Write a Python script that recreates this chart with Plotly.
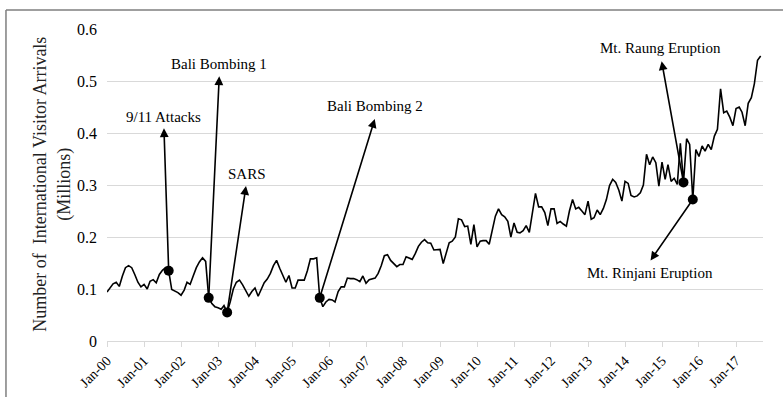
import pandas as pd
import plotly.graph_objects as go

# Monthly international visitor arrivals (millions), Jan 2000 onward
arrivals = [
    0.094, 0.103, 0.110, 0.113, 0.105, 0.125, 0.141, 0.145, 0.141, 0.128, 0.113, 0.104,  # 2000
    0.109, 0.100, 0.115, 0.118, 0.112, 0.128, 0.136, 0.141, 0.135, 0.099, 0.096, 0.093,  # 2001
    0.088, 0.098, 0.113, 0.109, 0.125, 0.141, 0.152, 0.160, 0.153, 0.083, 0.072, 0.066,  # 2002
    0.064, 0.061, 0.068, 0.055, 0.075, 0.100, 0.113, 0.117, 0.108, 0.097, 0.086, 0.095,  # 2003
    0.102, 0.086, 0.100, 0.112, 0.119, 0.130, 0.145, 0.155, 0.140, 0.128, 0.113, 0.126,  # 2004
    0.102, 0.102, 0.117, 0.117, 0.117, 0.135, 0.158, 0.158, 0.160, 0.083, 0.066, 0.075,  # 2005
    0.080, 0.079, 0.075, 0.095, 0.104, 0.104, 0.121, 0.120, 0.120, 0.118, 0.114, 0.125,  # 2006
    0.111, 0.118, 0.120, 0.121, 0.130, 0.145, 0.164, 0.166, 0.155, 0.148, 0.143, 0.147,  # 2007
    0.147, 0.162, 0.160, 0.157, 0.168, 0.182, 0.190, 0.195, 0.189, 0.188, 0.175, 0.176,  # 2008
    0.176, 0.149, 0.170, 0.189, 0.192, 0.200, 0.235, 0.233, 0.220, 0.221, 0.186, 0.224,  # 2009
    0.181, 0.192, 0.193, 0.193, 0.186, 0.214, 0.240, 0.254, 0.243, 0.239, 0.230, 0.200,  # 2010
    0.227, 0.209, 0.208, 0.212, 0.222, 0.209, 0.245, 0.284, 0.258, 0.258, 0.247, 0.222,  # 2011
    0.254, 0.254, 0.226, 0.230, 0.225, 0.221, 0.250, 0.272, 0.254, 0.257, 0.250, 0.243,  # 2012
    0.269, 0.234, 0.237, 0.252, 0.243, 0.255, 0.272, 0.299, 0.311, 0.305, 0.290, 0.269,  # 2013
    0.307, 0.303, 0.280, 0.277, 0.279, 0.285, 0.300, 0.359, 0.339, 0.354, 0.343, 0.298,  # 2014
    0.344, 0.311, 0.339, 0.307, 0.313, 0.301, 0.380, 0.305, 0.389, 0.378, 0.272, 0.368,  # 2015
    0.355, 0.375, 0.365, 0.378, 0.368, 0.394, 0.407, 0.485, 0.439, 0.442, 0.430, 0.414,  # 2016
    0.447, 0.450, 0.440, 0.414, 0.457, 0.468, 0.495, 0.540, 0.548,                       # 2017
]
months = pd.date_range("2000-01-01", periods=len(arrivals), freq="MS")

# Events marked on the series (month index from Jan 2000)
event_names = ["9/11 Attacks", "Bali Bombing 1", "SARS", "Bali Bombing 2",
               "Mt. Raung Eruption", "Mt. Rinjani Eruption"]
event_months = [20, 33, 39, 69, 187, 190]

# Callout placement: arrow tips and label centres as (month index, millions)
arrow_tips = [(18.5, 0.409), (36.4, 0.509), (45.1, 0.298), (86.9, 0.427),
              (179.9, 0.538), (176.3, 0.155)]
label_pos = [(18.3, 0.431), (36.3, 0.532), (45.5, 0.321), (87.1, 0.451),
             (179.6, 0.563), (176.2, 0.131)]

FONT = "Liberation Serif"


def month_to_date(m):
    whole = int(m)
    base = pd.Timestamp("2000-01-01") + pd.DateOffset(months=whole)
    return (base + pd.Timedelta(days=(m - whole) * 30.4)).strftime("%Y-%m-%d %H:%M")


fig = go.Figure()
fig.add_trace(go.Scatter(
    x=months, y=arrivals, mode="lines",
    line=dict(color="black", width=1.6), showlegend=False, hoverinfo="x+y",
))
fig.add_trace(go.Scatter(
    x=[months[i] for i in event_months], y=[arrivals[i] for i in event_months],
    mode="markers", marker=dict(color="black", size=10), showlegend=False,
    text=event_names, hoverinfo="text+y",
))

annotations = []
for i, name in enumerate(event_names):
    m = event_months[i]
    tx, ty = arrow_tips[i]
    lx, ly = label_pos[i]
    annotations.append(dict(
        x=month_to_date(tx), y=ty, xref="x", yref="y",
        ax=months[m].strftime("%Y-%m-%d"), ay=arrivals[m], axref="x", ayref="y",
        text="", showarrow=True, arrowhead=2, arrowsize=1.1, arrowwidth=1.6,
        arrowcolor="black", standoff=0, startstandoff=0,
    ))
    annotations.append(dict(
        x=month_to_date(lx), y=ly, xref="x", yref="y", text=name, showarrow=False,
        xanchor="center", yanchor="middle", font=dict(family=FONT, size=15, color="black"),
    ))

annotations.append(dict(
    x=-0.084, y=0.504, xref="paper", yref="paper", textangle=-90,
    text="Number of  International Visitor Arrivals<br>(Millions)",
    showarrow=False, xanchor="center", yanchor="middle",
    font=dict(family=FONT, size=18, color="#222222"),
))

fig.update_layout(
    width=783, height=397,
    margin=dict(l=107, r=20, t=29, b=56, autoexpand=False),
    paper_bgcolor="white", plot_bgcolor="white",
    font=dict(family=FONT, color="black"),
    annotations=annotations,
    shapes=[
        dict(type="line", xref="paper", yref="paper", x0=-0.154, x1=-0.154, y0=-0.3, y1=1.061,
             line=dict(color="#7f7f7f", width=1.5)),
        dict(type="line", xref="paper", yref="paper", x0=-0.154, x1=1.1, y0=1.061, y1=1.061,
             line=dict(color="#7f7f7f", width=1.5)),
    ],
)
fig.update_xaxes(
    type="date", range=["2000-01-01", "2017-09-24"],
    tick0="2000-01-01", dtick="M12", tickformat="%b-%y", tickangle=-45,
    tickfont=dict(family=FONT, size=14, color="black"),
    showgrid=False, showline=True, linecolor="#d9d9d9", linewidth=1,
    ticks="outside", ticklen=5, tickcolor="#d9d9d9", zeroline=False,
)
fig.update_yaxes(
    range=[0, 0.6], dtick=0.1, tick0=0,
    tickfont=dict(family=FONT, size=16, color="black"),
    showgrid=True, gridcolor="#d9d9d9", gridwidth=1,
    zeroline=False, showline=False, ticks="", ticklabelstandoff=9,
)

fig.write_html("out.html")
